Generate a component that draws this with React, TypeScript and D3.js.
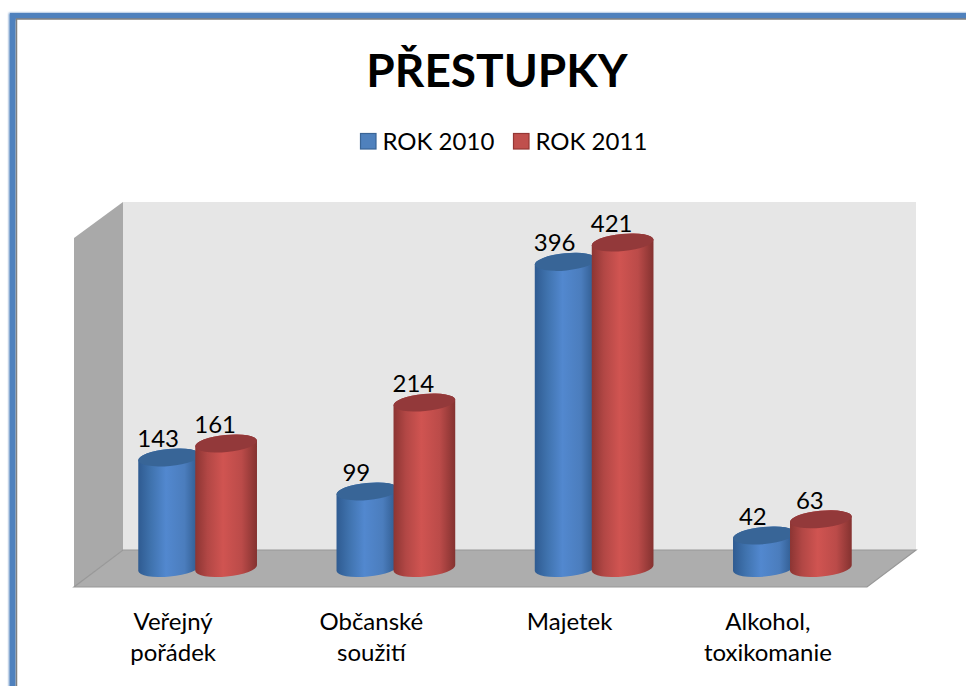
import React from "react";
import * as d3 from "d3";

const categories = [["Veřejný", "pořádek"], ["Občanské", "soužití"], ["Majetek"], ["Alkohol,", "toxikomanie"]];
const seriesNames = ["ROK 2010", "ROK 2011"];
const rok2010 = [143, 99, 396, 42];
const rok2011 = [161, 214, 421, 63];
const titleText = "PŘESTUPKY";

const FONT = "Lato, Carlito, Calibri, sans-serif";
const depthX = 49, depthY = 37;
const frontL = 74, frontR = 867, frontB = 587, wallT = 202;
const base = 568;

const x = d3.scaleBand<number>().domain([0, 1, 2, 3]).range([frontL, frontR]);
const xBars = d3.scaleBand<number>().domain([0, 1, 2, 3]).range([frontL + depthX / 2, frontR + depthX / 2]);
const xSeries = d3.scaleBand<number>().domain([0, 1]).range([-57, 57]);
const y = d3.scaleLinear().domain([0, 421]).range([base, 242.5]);

const RX = 31, RY = 8.6, TILT = -5.5;
const ca = Math.cos((TILT * Math.PI) / 180), sa = Math.sin((TILT * Math.PI) / 180);

function Cylinder({ cx, top, s }: { cx: number; top: number; s: number }) {
  const lx = cx - RX * ca, rx = cx + RX * ca;
  const ldy = -RX * sa, rdy = RX * sa;
  const d = `M${lx},${top + ldy} L${lx},${base + ldy} A${RX},${RY} ${TILT} 0 0 ${rx},${base + rdy} L${rx},${top + rdy} A${RX},${RY} ${TILT} 0 0 ${lx},${top + ldy} Z`;
  return (
    <g>
      <path d={d} fill={`url(#cyl${s})`} />
      <ellipse cx={cx} cy={top} rx={RX} ry={RY} transform={`rotate(${TILT} ${cx} ${top})`} fill={s === 0 ? "#386597" : "#93393a"} />
    </g>
  );
}

export default function App() {
  const series = [rok2010, rok2011];
  const stops = [
    ["#2f5b91", "#3f72ad", "#5288cf", "#4b7dbd", "#2c5688"],
    ["#8c3533", "#b24745", "#d05451", "#bb4b49", "#843230"],
  ];
  return (
    <svg width={966} height={686} viewBox="0 0 966 686" style={{ position: "absolute", left: 0, top: 0, background: "#fff" }} fontFamily={FONT}>
      <defs>
        <filter id="blur" x="-5%" y="-5%" width="110%" height="110%"><feGaussianBlur stdDeviation="1.3" /></filter>
        {stops.map((st, s) => (
          <linearGradient id={`cyl${s}`} key={s} x1="0" x2="1" y1="0" y2="0">
            {st.map((c, i) => <stop key={i} offset={[0, 0.2, 0.45, 0.75, 1][i]} stopColor={c} />)}
          </linearGradient>
        ))}
      </defs>

      <rect x={12.5} y={16.5} width={1000} height={800} fill="none" stroke="#4f81bd" strokeWidth={7} filter="url(#blur)" />
      <rect x={16.5} y={19} width={1000} height={800} fill="#fff" stroke="#7f7f7f" strokeWidth={1.5} />
      <rect x={12.5} y={15.5} width={1000} height={800} fill="none" stroke="#4f81bd" strokeWidth={5} />

      <rect x={frontL + depthX} y={wallT} width={frontR - frontL} height={frontB - depthY - wallT} fill="#e6e6e6" />
      <path d={d3.line()([[frontL, wallT + depthY - 1], [frontL + depthX, wallT], [frontL + depthX, frontB - depthY], [frontL, frontB]])! + "Z"} fill="#a9a9a9" />
      <path d={d3.line()([[frontL + depthX, frontB - depthY], [frontR + depthX, frontB - depthY], [frontR, frontB], [frontL, frontB]])! + "Z"} fill="#adadad" stroke="#989898" strokeWidth={1.2} />

      {categories.map((_, i) => (
        <g key={i}>
          {series.map((vals, s) => {
            const cx = xBars(i)! + xBars.bandwidth() / 2 + xSeries(s)! + xSeries.bandwidth() / 2;
            return <Cylinder key={s} cx={cx} top={y(vals[i])} s={s} />;
          })}
        </g>
      ))}

      {categories.map((_, i) =>
        series.map((vals, s) => {
          const cx = xBars(i)! + xBars.bandwidth() / 2 + xSeries(s)! + xSeries.bandwidth() / 2;
          return (
            <text key={`${i}-${s}`} x={cx - 11} y={y(vals[i]) - 10.5} textAnchor="middle" fontSize={24} fill="#000">{vals[i]}</text>
          );
        })
      )}

      {categories.map((lines, i) => (
        <text key={i} x={x(i)! + x.bandwidth() / 2} textAnchor="middle" fontSize={24} fill="#000">
          {lines.map((l, j) => <tspan key={j} x={x(i)! + x.bandwidth() / 2} y={630 + j * 31}>{l}</tspan>)}
        </text>
      ))}

      <text x={497} y={87} textAnchor="middle" fontSize={46} fontWeight={700} fill="#000">{titleText}</text>

      {seriesNames.map((n, s) => {
        const lx = 360.5 + s * 153;
        return (
          <g key={n}>
            <rect x={lx} y={133.5} width={15.5} height={15.5} fill={s === 0 ? "#4f81bd" : "#c0504d"} stroke={s === 0 ? "#3a6596" : "#953735"} strokeWidth={1.2} />
            <text x={lx + 22} y={150} fontSize={24} fill="#000">{n}</text>
          </g>
        );
      })}
    </svg>
  );
}
